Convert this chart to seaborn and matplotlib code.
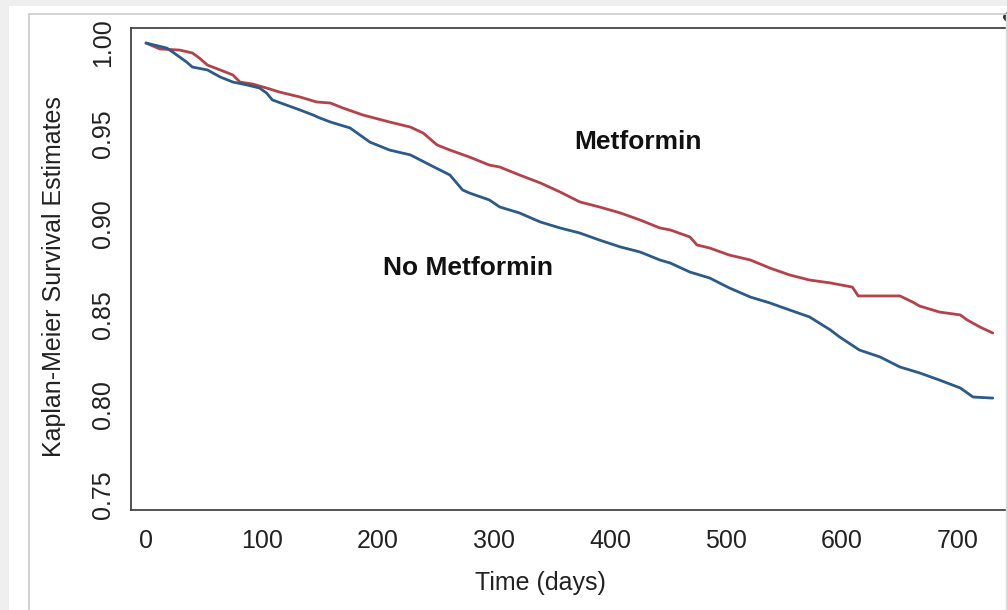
import matplotlib
matplotlib.use("Agg")
import matplotlib.pyplot as plt
import seaborn as sns
import pandas as pd
from matplotlib.lines import Line2D
from matplotlib.patches import Rectangle, Circle

# Kaplan-Meier estimates
met_days = [0, 12, 29, 40, 46, 53, 64, 75, 81, 92, 104, 115, 133, 147, 159, 170,
            187, 210, 228, 239, 251, 262, 279, 296, 305, 322, 340, 357, 374, 391,
            409, 426, 443, 452, 469, 475, 486, 503, 521, 538, 555, 572, 590, 609,
            614, 650, 661, 667, 684, 702, 708, 719, 730]
met_surv = [1.000, 0.9967, 0.9961, 0.9945, 0.9917, 0.9878, 0.9851, 0.9823, 0.9784,
            0.9773, 0.9751, 0.9729, 0.9701, 0.9674, 0.9668, 0.9640, 0.9602, 0.9563,
            0.9535, 0.9502, 0.9436, 0.9408, 0.9369, 0.9325, 0.9314, 0.9270, 0.9226,
            0.9176, 0.9121, 0.9093, 0.9060, 0.9021, 0.8977, 0.8966, 0.8927, 0.8883,
            0.8866, 0.8827, 0.8800, 0.8755, 0.8717, 0.8689, 0.8673, 0.8650, 0.8601,
            0.8601, 0.8567, 0.8545, 0.8512, 0.8496, 0.8468, 0.8429, 0.8396]

nomet_days = [0, 18, 23, 35, 40, 53, 64, 75, 87, 98, 104, 109, 121, 133, 144, 150,
              159, 176, 193, 210, 228, 245, 262, 273, 279, 296, 305, 322, 340, 357,
              374, 391, 409, 426, 443, 452, 469, 486, 503, 521, 538, 555, 572, 590,
              598, 615, 633, 650, 667, 684, 702, 713, 730]
nomet_surv = [1.000, 0.9972, 0.9950, 0.9895, 0.9867, 0.9851, 0.9812, 0.9784, 0.9768,
              0.9751, 0.9723, 0.9685, 0.9657, 0.9629, 0.9602, 0.9585, 0.9563, 0.9530,
              0.9452, 0.9408, 0.9381, 0.9325, 0.9270, 0.9187, 0.9170, 0.9132, 0.9093,
              0.9060, 0.9010, 0.8977, 0.8949, 0.8910, 0.8872, 0.8844, 0.8800, 0.8783,
              0.8733, 0.8700, 0.8645, 0.8595, 0.8562, 0.8523, 0.8485, 0.8413, 0.8374,
              0.8302, 0.8263, 0.8208, 0.8175, 0.8136, 0.8092, 0.8042, 0.8036]

x_ticks = [0, 100, 200, 300, 400, 500, 600, 700]
y_ticks = [0.75, 0.80, 0.85, 0.90, 0.95, 1.00]

df = pd.concat([
    pd.DataFrame({"days": met_days, "surv": met_surv, "group": "Metformin"}),
    pd.DataFrame({"days": nomet_days, "surv": nomet_surv, "group": "No Metformin"}),
])

sns.set_style("white")
plt.rcParams["font.family"] = ["Liberation Sans", "DejaVu Sans"]

W, H = 1007, 610
fig = plt.figure(figsize=(W / 100, H / 100), dpi=100)

# screenshot frame around the plot
fig.add_artist(Rectangle((0, 1 - 6 / H), 1, 6 / H, transform=fig.transFigure, color="#efefef", lw=0))
fig.add_artist(Rectangle((0, 0), 9 / W, 1, transform=fig.transFigure, color="#efefef", lw=0))
fig.add_artist(Line2D([29 / W, 1], [1 - 14 / H] * 2, transform=fig.transFigure, color="#cccccc", lw=1.2))
fig.add_artist(Line2D([29 / W] * 2, [0, 1 - 14 / H], transform=fig.transFigure, color="#cccccc", lw=1.2))
fig.add_artist(Line2D([1005.5 / W] * 2, [0, 1 - 14 / H], transform=fig.transFigure, color="#dddddd", lw=1.0))
fig.add_artist(Circle((1013 / W, 1 - 17 / H), 10 / W, transform=fig.transFigure, color="#333333", lw=0))

ax = fig.add_axes([131 / W, 1 - 510 / H, 881 / W, 482 / H])

sns.lineplot(data=df, x="days", y="surv", hue="group",
             palette={"Metformin": "#b5414a", "No Metformin": "#2c5b8a"},
             estimator=None, lw=2.0, legend=False, ax=ax)

ax.set_xlim(-12.9, 746.6)
ax.set_ylim(0.7417, 1.0083)
ax.set_xticks(x_ticks)
ax.set_xticklabels([str(v) for v in x_ticks])
ax.set_yticks(y_ticks)
ax.set_yticklabels([f"{v:.2f}" for v in y_ticks])

ax.tick_params(axis="both", direction="out", length=7, width=1.1, color="#555555",
               labelsize=18, labelcolor="#222222")
ax.tick_params(axis="x", pad=6.5)
ax.tick_params(axis="y", pad=4.5, labelrotation=90)
for lab in ax.get_yticklabels():
    lab.set_va("center")

for sp in ax.spines.values():
    sp.set_color("#444444")
    sp.set_linewidth(1.3)

ax.set_xlabel("Time (days)", fontsize=18, color="#222222")
ax.set_ylabel("Kaplan-Meier Survival Estimates", fontsize=18, color="#222222")
ax.xaxis.set_label_coords((540 - 131) / 881, (510 - 571) / 482)
ax.yaxis.set_label_coords((66 - 131) / 881, (510 - 277) / 482)

ax.text(424, 0.9452, "Metformin", ha="center", va="center", fontsize=19,
        fontweight="bold", color="#111111")
ax.text(278, 0.8756, "No Metformin", ha="center", va="center", fontsize=19,
        fontweight="bold", color="#111111")

fig.savefig("out.png", dpi=100)
